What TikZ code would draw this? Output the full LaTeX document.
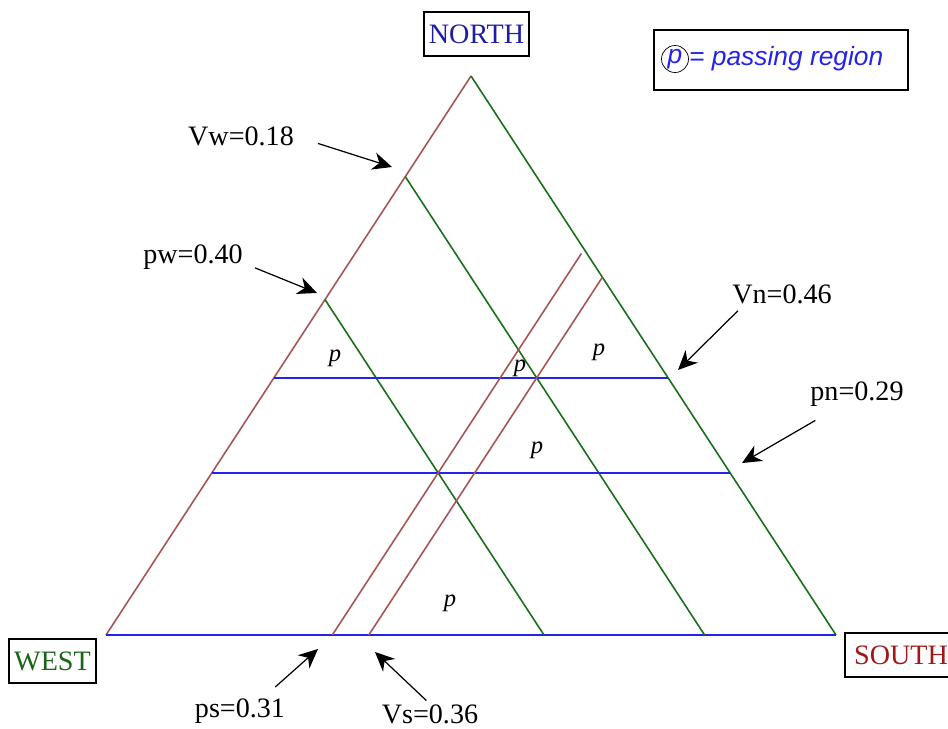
\documentclass[tikz,border=0pt]{standalone}
\usepackage{fontspec}
\setmainfont{Liberation Serif}
\setsansfont{Liberation Sans}
\usetikzlibrary{arrows.meta, positioning, calc}
\definecolor{southcol}{RGB}{165,85,85}
\definecolor{westcol}{RGB}{25,110,25}
\definecolor{northcol}{RGB}{35,35,235}
\definecolor{northtext}{RGB}{30,30,165}
\definecolor{westtext}{RGB}{25,100,25}
\definecolor{southtext}{RGB}{160,25,25}

\begin{document}
\begin{tikzpicture}[x=0.02cm, y=-0.02cm,
  every node/.style={font=\fontsize{16}{18}\selectfont},
  sidebox/.style={draw, line width=1.1pt, minimum height=0.88cm, inner xsep=3pt},
  vallabel/.style={inner sep=0pt, anchor=base},
  pointer/.style={-{Stealth[length=11pt, width=10pt, inset=3.5pt]}, line width=0.7pt},
  preg/.style={font=\fontsize{14}{16}\selectfont\itshape}]
  \useasboundingbox (0,0) rectangle (948,728);

  \coordinate (N) at (471,76);
  \coordinate (W) at (106,635);
  \coordinate (S) at (836,635);

  % corner boxes
  \node[sidebox, text=northtext, minimum width=2.1cm] (north) at (476.5,34) {NORTH};
  \node[sidebox, text=westtext, minimum width=1.74cm] (west) at (52.5,661) {WEST};
  \node[sidebox, text=southtext, minimum width=2.24cm] (south) at (901,655) {SOUTH};

  % legend
  \node[draw, line width=1.1pt, minimum width=5.08cm, minimum height=1.2cm] (legend) at (781,60) {};
  \node[circle, draw, inner sep=0.5pt, minimum size=0.5cm, text=northcol,
    font=\sffamily\itshape\fontsize{15}{17}\selectfont] (pmark) at (675,59) {p};
  \node[right=0pt of pmark, inner sep=0pt, text=northcol,
    font=\sffamily\itshape\fontsize{15}{17}\selectfont] (legtext) {= passing region};

  % triangle
  \draw[southcol, line width=0.9pt] (W) -- (N);
  \draw[westcol, line width=0.9pt] (N) -- (S);
  \draw[northcol, line width=1.2pt] (W) -- (S);

  % west values
  \draw[westcol, line width=0.9pt] ($(N)!0.18!(W)$) -- ($(S)!0.18!(W)$);
  \draw[westcol, line width=0.9pt] ($(N)!0.40!(W)$) -- ($(S)!0.40!(W)$);
  % north values
  \draw[northcol, line width=1.2pt] ($(W)!0.46!(N)$) -- ($(S)!0.46!(N)$);
  \draw[northcol, line width=1.2pt] ($(W)!0.29!(N)$) -- ($(S)!0.29!(N)$);
  % south values
  \draw[southcol, line width=0.9pt, shorten >=0.1cm] ($(W)!0.31!(S)$) -- ($(N)!0.31!(S)$);
  \draw[southcol, line width=0.9pt] ($(W)!0.36!(S)$) -- ($(N)!0.36!(S)$);

  % passing regions
  \node[preg] (p1) at (335,358) {p};
  \node[preg] (p2) at (520,368) {p};
  \node[preg] (p3) at (599,352) {p};
  \node[preg] (p4) at (537,450) {p};
  \node[preg] (p5) at (450,603) {p};

  % value labels
  \node[vallabel] (vw) at (241,145) {Vw=0.18};
  \node[vallabel] (pw) at (193,263) {pw=0.40};
  \node[vallabel] (vn) at (782,303) {Vn=0.46};
  \node[vallabel] (pn) at (857,400) {pn=0.29};
  \node[vallabel] (ps) at (240,717) {ps=0.31};
  \node[vallabel] (vs) at (430,723) {Vs=0.36};

  \coordinate (vwtip) at (392,167);
  \coordinate (pwtip) at (317,293);
  \coordinate (vntip) at (678,370);
  \coordinate (pntip) at (742,463);
  \coordinate (pstip) at (318,649);
  \coordinate (vstip) at (375,652);

  \draw[pointer, shorten <=0.5cm] (vw.east) -- (vwtip);
  \draw[pointer, shorten <=0.26cm] (pw.base east) -- (pwtip);
  \draw[pointer, shorten <=0.2cm] (vn.195) -- (vntip);
  \draw[pointer, shorten <=0.56cm] (pn.216) -- (pntip);
  \draw[pointer, shorten <=0.33cm] (ps.29) -- (pstip);
  \draw[pointer, shorten <=0.1cm] (vs.north) -- (vstip);
\end{tikzpicture}
\end{document}
